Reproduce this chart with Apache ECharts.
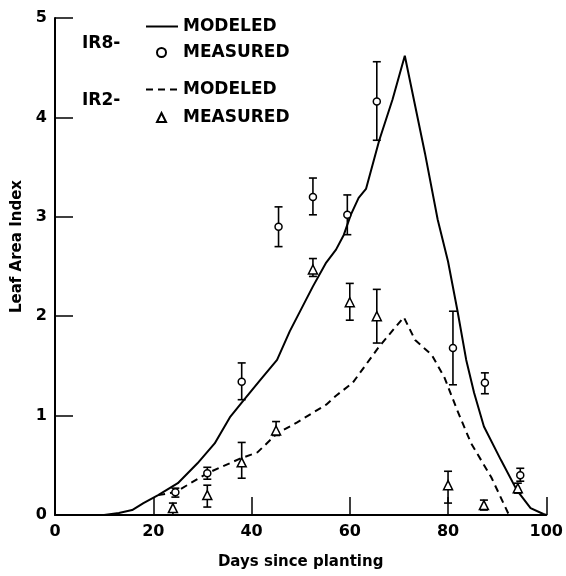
<!DOCTYPE html>
<html>
<head>
<meta charset="utf-8">
<script src="https://cdn.jsdelivr.net/npm/echarts@6/dist/echarts.min.js"></script>
<style>
  html, body { margin: 0; padding: 0; background: #fff; }
  #chart { width: 566px; height: 576px; }
</style>
</head>
<body>
<div id="chart"></div>
<script>
// modeled curves (day, LAI)
const ir8Model = [
  [10, 0], [13, 0.02], [15.7, 0.05], [18, 0.12], [21, 0.2], [25, 0.32], [29, 0.52],
  [32.5, 0.72], [35.7, 0.99], [38.5, 1.16], [41.8, 1.36], [45.2, 1.56], [47.8, 1.85],
  [52.5, 2.3], [55.2, 2.54], [57.2, 2.67], [58.8, 2.82], [60.2, 3.02], [61.8, 3.19],
  [63.3, 3.28], [66, 3.77], [68.7, 4.18], [71.2, 4.62], [75.3, 3.64], [77.9, 2.97],
  [80, 2.55], [81.9, 2.06], [83.7, 1.56], [85.3, 1.23], [87.3, 0.89], [90.8, 0.55],
  [94, 0.25], [96.8, 0.07], [99.4, 0.01], [100, 0]
];
const ir2Model = [
  [21, 0.2], [24.5, 0.23], [31, 0.42], [37.8, 0.57], [41.2, 0.63], [45.2, 0.82],
  [49.2, 0.93], [55.2, 1.11], [57.2, 1.2], [60.6, 1.33], [65.9, 1.69], [71, 1.99],
  [73.3, 1.76], [76.7, 1.61], [79.3, 1.38], [81.9, 1.05], [84.7, 0.72], [88.8, 0.38],
  [92.4, 0]
];

// measured points with error bars
const ir8Days = [24.5, 31, 38, 45.5, 52.5, 59.5, 65.5, 81, 87.5, 94.7];
const ir8Mean = [0.23, 0.42, 1.34, 2.9, 3.2, 3.02, 4.16, 1.68, 1.33, 0.4];
const ir8Low  = [0.18, 0.36, 1.16, 2.7, 3.02, 2.82, 3.77, 1.31, 1.22, 0.34];
const ir8High = [0.27, 0.48, 1.53, 3.1, 3.39, 3.22, 4.56, 2.05, 1.43, 0.47];

const ir2Days = [24, 31, 38, 45, 52.5, 60, 65.5, 80, 87.3, 94.2];
const ir2Mean = [0.07, 0.2, 0.53, 0.85, 2.47, 2.14, 2.0, 0.3, 0.1, 0.27];
const ir2Low  = [0.0, 0.08, 0.37, 0.8, 2.4, 1.96, 1.73, 0.12, 0.05, 0.22];
const ir2High = [0.12, 0.3, 0.73, 0.94, 2.58, 2.33, 2.27, 0.44, 0.15, 0.32];

const FONT = "DejaVu Sans";

const errorBar = (params, api) => {
  const lo = api.coord([api.value(0), api.value(1)]);
  const hi = api.coord([api.value(0), api.value(2)]);
  const w = 4;
  const st = { stroke: '#000', lineWidth: 1.6 };
  return {
    type: 'group',
    children: [
      { type: 'line', shape: { x1: lo[0], y1: lo[1], x2: hi[0], y2: hi[1] }, style: st },
      { type: 'line', shape: { x1: lo[0] - w, y1: lo[1], x2: lo[0] + w, y2: lo[1] }, style: st },
      { type: 'line', shape: { x1: hi[0] - w, y1: hi[1], x2: hi[0] + w, y2: hi[1] }, style: st }
    ]
  };
};

// one legend per row, so line and marker rows can be sized separately
const legendRow = (name, top, isLine) => ({
  orient: 'vertical',
  left: isLine ? 140 : 151,
  top: top,
  itemWidth: isLine ? 32 : 9,
  itemHeight: 9,
  formatter: (n) => n.split(' ')[1],
  textStyle: {
    fontFamily: FONT, fontSize: 17, fontWeight: 'bold', color: '#000',
    padding: [0, 0, 0, isLine ? 0 : 12]
  },
  data: [isLine ? { name: name, itemStyle: { opacity: 0 } } : name]
});

const chart = echarts.init(document.getElementById('chart'));
const options = {
  animation: false,
  grid: { left: 55, right: 13, top: 18, bottom: 61 },
  legend: [
    legendRow('IR8 MODELED', 13, true),
    legendRow('IR8 MEASURED', 39, false),
    legendRow('IR2 MODELED', 76, true),
    legendRow('IR2 MEASURED', 104, false)
  ],
  graphic: [
    { type: 'text', left: 82, top: 35, style: { text: 'IR8-', font: 'bold 17px "DejaVu Sans"', fill: '#000' } },
    { type: 'text', left: 82, top: 92, style: { text: 'IR2-', font: 'bold 17px "DejaVu Sans"', fill: '#000' } }
  ],
  xAxis: {
    type: 'value',
    min: 0, max: 100, interval: 20,
    name: 'Days since planting',
    nameLocation: 'middle',
    nameGap: 40,
    nameTextStyle: { fontFamily: FONT, fontSize: 15, fontWeight: 'bold', color: '#000' },
    axisLine: { lineStyle: { color: '#000', width: 2 } },
    axisTick: { inside: true, length: 18, lineStyle: { color: '#000', width: 1.5 } },
    axisLabel: { fontFamily: FONT, fontSize: 16, fontWeight: 'bold', color: '#000', margin: 9 },
    splitLine: { show: false }
  },
  yAxis: {
    type: 'value',
    min: 0, max: 5, interval: 1,
    name: 'Leaf Area Index',
    nameLocation: 'middle',
    nameGap: 28,
    nameTextStyle: { fontFamily: FONT, fontSize: 15, fontWeight: 'bold', color: '#000', padding: [0, 0, 0, 40] },
    axisLine: { show: true, lineStyle: { color: '#000', width: 2 } },
    axisTick: { show: true, inside: true, length: 18, lineStyle: { color: '#000', width: 1.5 } },
    axisLabel: { fontFamily: FONT, fontSize: 16, fontWeight: 'bold', color: '#000', margin: 8 },
    splitLine: { show: false }
  },
  series: [
    {
      name: 'IR8 MODELED', type: 'line', data: ir8Model, symbol: 'none',
      lineStyle: { color: '#000', width: 2 }, itemStyle: { color: '#000' }, z: 3
    },
    {
      name: 'IR2 MODELED', type: 'line', data: ir2Model, symbol: 'none',
      lineStyle: { color: '#000', width: 2, type: [7, 5] }, itemStyle: { color: '#000' }, z: 3
    },
    {
      name: 'IR8 bars', type: 'custom', renderItem: errorBar, z: 4,
      data: ir8Days.map((d, i) => [d, ir8Low[i], ir8High[i]])
    },
    {
      name: 'IR2 bars', type: 'custom', renderItem: errorBar, z: 4,
      data: ir2Days.map((d, i) => [d, ir2Low[i], ir2High[i]])
    },
    {
      name: 'IR8 MEASURED', type: 'scatter', symbol: 'circle', symbolSize: 7, z: 5,
      itemStyle: { color: '#fff', borderColor: '#000', borderWidth: 1.5, opacity: 1 },
      data: ir8Days.map((d, i) => [d, ir8Mean[i]])
    },
    {
      name: 'IR2 MEASURED', type: 'scatter', symbol: 'triangle', symbolSize: 9, z: 5,
      itemStyle: { color: '#fff', borderColor: '#000', borderWidth: 1.5, opacity: 1 },
      data: ir2Days.map((d, i) => [d, ir2Mean[i]])
    }
  ]
};
chart.setOption(options);
</script>
</body>
</html>
